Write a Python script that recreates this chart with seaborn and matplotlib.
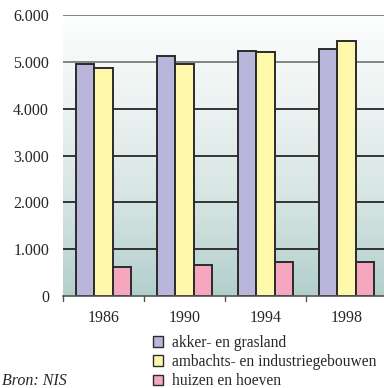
import numpy as np
import pandas as pd
import matplotlib
matplotlib.use("Agg")
import matplotlib.pyplot as plt
from matplotlib.patches import Patch
from matplotlib.colors import LinearSegmentedColormap
import seaborn as sns

years = ["1986", "1990", "1994", "1998"]
series_names = ["akker- en grasland", "ambachts- en industriegebouwen", "huizen en hoeven"]
akker = [4960, 5120, 5230, 5270]
ambachts = [4860, 4960, 5220, 5440]
huizen = [620, 660, 730, 730]
yticks = [0, 1000, 2000, 3000, 4000, 5000, 6000]
ytick_labels = ["0", "1.000", "2.000", "3.000", "4.000", "5.000", "6.000"]
source_text = "Bron: NIS"

colors = ["#bab5da", "#fff7aa", "#f5a7c0"]

df = pd.DataFrame({
    "jaar": years * 3,
    "reeks": [series_names[0]] * 4 + [series_names[1]] * 4 + [series_names[2]] * 4,
    "waarde": akker + ambachts + huizen,
})

sns.set_style("white")
plt.rcParams["font.family"] = ["Liberation Serif", "DejaVu Serif"]

fig = plt.figure(figsize=(3.84, 3.88), dpi=100)
ax = fig.add_axes([63 / 384, 92 / 388, 324 / 384, 281 / 388])

# vertical gradient behind the bars: near-white at the top, grey-teal at the bottom
grad_cmap = LinearSegmentedColormap.from_list(
    "bg", ["#fdfefe", "#ebf2f1", "#d5e4e2", "#b2cfcc"])
grad = np.linspace(0, 1, 256).reshape(-1, 1)
ax.imshow(grad, aspect="auto", cmap=grad_cmap, extent=[0, 1, 0, 1],
          transform=ax.transAxes, zorder=0, vmin=0, vmax=1)

# horizontal grid lines
for v in yticks[1:]:
    col = "#7a7a7a" if v >= 5000 else "#262626"
    ax.axhline(v, color=col, lw=1.3, zorder=1)

sns.barplot(data=df, x="jaar", y="waarde", hue="reeks", palette=colors,
            saturation=1, width=0.67, edgecolor="#2b2b2b", linewidth=1.4,
            ax=ax, legend=False, zorder=2, errorbar=None)

ax.set_xlim(-0.5, 3.5)
ax.set_ylim(0, 6000)
ax.set_yticks(yticks)
ax.set_yticklabels(ytick_labels, fontsize=11.5)
ax.set_xticks([0, 1, 2, 3])
ax.set_xticklabels(years, fontsize=11.5)
ax.set_xlabel("")
ax.set_ylabel("")
ax.tick_params(axis="y", length=0, pad=10)
ax.tick_params(axis="x", length=0, pad=10)
for s in ["left", "right", "top"]:
    ax.spines[s].set_visible(False)
ax.spines["bottom"].set_color("#555555")
ax.spines["bottom"].set_linewidth(1.2)

# small ticks between categories
for xb in [-0.5, 0.5, 1.5, 2.5]:
    ax.plot([xb, xb], [0, -110], color="#555555", lw=1.0, clip_on=False, zorder=3)

handles = [Patch(facecolor=c, edgecolor="#2b2b2b", linewidth=1.0) for c in colors]
fig.legend(handles, series_names, loc="upper left",
           bbox_to_anchor=(153 / 384, 1 - 335 / 388), frameon=False,
           fontsize=11.2, handlelength=0.65, handleheight=0.65,
           handletextpad=0.6, labelspacing=0.2, borderpad=0, borderaxespad=0)

fig.text(2 / 384, 1 - 381 / 388, source_text, fontsize=11.5, style="italic",
         va="center", ha="left")

fig.savefig("out.png", dpi=100)
